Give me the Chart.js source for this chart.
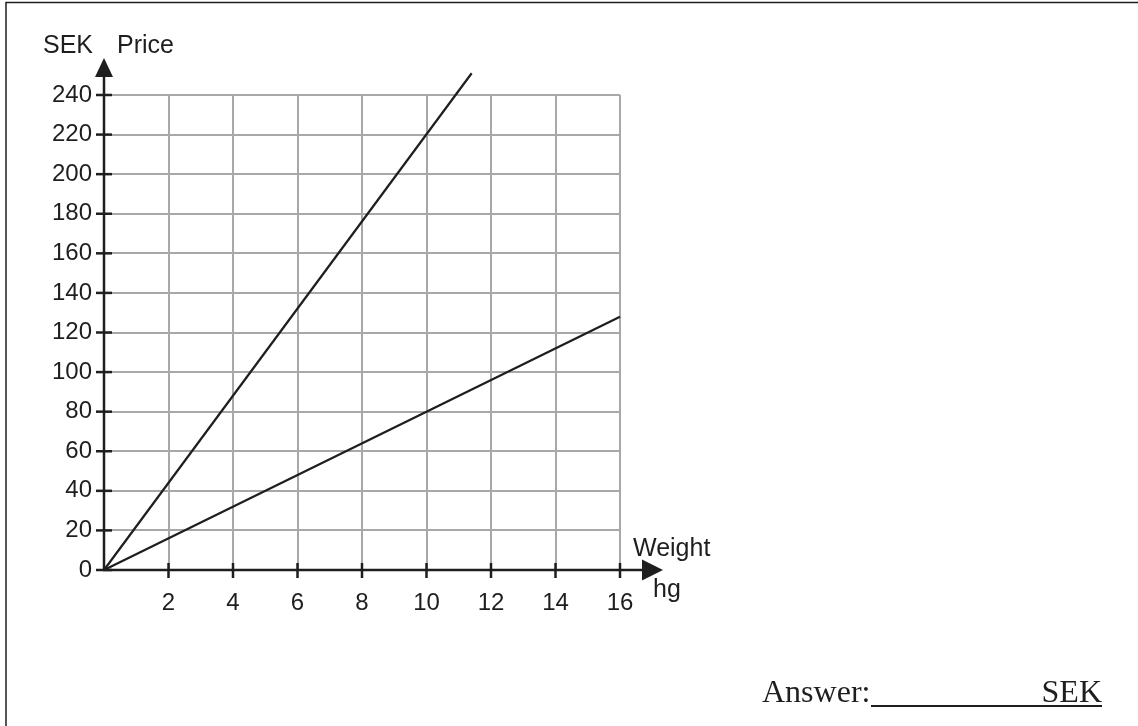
<!DOCTYPE html>
<html>
<head>
<meta charset="utf-8">
<script src="https://cdn.jsdelivr.net/npm/chart.js@4"></script>
<style>
  body { margin: 0; background: #fff; }
  #wrap { position: relative; width: 1138px; height: 726px; }
</style>
</head>
<body>
<div id="wrap"><canvas id="priceChart"></canvas></div>
<script>
// ===============================
// DATA
// ===============================
const steepWeight = [0, 11.4];
const steepPrice = [0, 251];
const flatWeight = [0, 16];
const flatPrice = [0, 128];

const xTicks = [0, 2, 4, 6, 8, 10, 12, 14, 16];
const yTicks = [0, 20, 40, 60, 80, 100, 120, 140, 160, 180, 200, 220, 240];

const yUnit = "SEK";
const yTitle = "Price";
const xTitle = "Weight";
const xUnit = "hg";

const INK = "#1e1e1e";
const GRID = "#a8a8a8";
const SANS = "'Liberation Sans', Arial, sans-serif";

function toPoints(xs, ys) {
  return xs.map((x, i) => ({ x: x, y: ys[i] }));
}

// ===============================
// AXES + ARROWS + TEXT
// ===============================
const axesPlugin = {
  id: "axesPlugin",
  afterDatasetsDraw(chart) {
    const ctx = chart.ctx;
    const xs = chart.scales.x;
    const ys = chart.scales.y;
    const x0 = xs.getPixelForValue(0);
    const y0 = ys.getPixelForValue(0);

    ctx.save();
    ctx.strokeStyle = INK;
    ctx.fillStyle = INK;
    ctx.lineWidth = 2.5;

    // y axis
    ctx.beginPath();
    ctx.moveTo(x0, y0 + 1);
    ctx.lineTo(x0, 76);
    ctx.stroke();
    ctx.beginPath();
    ctx.moveTo(x0, 58);
    ctx.lineTo(x0 - 9, 77);
    ctx.lineTo(x0 + 9, 77);
    ctx.closePath();
    ctx.fill();

    // x axis
    ctx.beginPath();
    ctx.moveTo(x0 - 1, y0);
    ctx.lineTo(643, y0);
    ctx.stroke();
    ctx.beginPath();
    ctx.moveTo(663, y0);
    ctx.lineTo(642, y0 - 10.5);
    ctx.lineTo(642, y0 + 10.5);
    ctx.closePath();
    ctx.fill();

    // tick marks
    yTicks.forEach((v) => {
      const py = ys.getPixelForValue(v);
      ctx.beginPath();
      ctx.moveTo(x0 - 8, py);
      ctx.lineTo(x0 + 8, py);
      ctx.stroke();
    });
    xTicks.forEach((v) => {
      if (v === 0) return;
      const px = xs.getPixelForValue(v);
      ctx.beginPath();
      ctx.moveTo(px, y0 - 7);
      ctx.lineTo(px, y0 + 8);
      ctx.stroke();
    });

    // titles
    ctx.font = "25px " + SANS;
    ctx.textBaseline = "alphabetic";
    ctx.textAlign = "left";
    ctx.fillText(yUnit, 43, 53);
    ctx.fillText(yTitle, 117, 53);
    ctx.fillText(xTitle, 633, 556);
    ctx.fillText(xUnit, 653, 597);

    // answer line
    ctx.font = "32px 'Liberation Serif', 'Times New Roman', serif";
    ctx.fillText("Answer:", 762, 702);
    ctx.textAlign = "right";
    ctx.fillText("SEK", 1102, 702);
    ctx.lineWidth = 2;
    ctx.beginPath();
    ctx.moveTo(871, 706);
    ctx.lineTo(1102, 706);
    ctx.stroke();

    // page frame (top + left)
    ctx.lineWidth = 1.5;
    ctx.beginPath();
    ctx.moveTo(6, 726);
    ctx.lineTo(6, 2.5);
    ctx.lineTo(1138, 2.5);
    ctx.stroke();

    ctx.restore();
  },
};

// ===============================
// CHART
// ===============================
const ctx = document.getElementById("priceChart").getContext("2d");

new Chart(ctx, {
  type: "scatter",
  data: {
    datasets: [
      {
        data: toPoints(steepWeight, steepPrice),
        showLine: true,
        borderColor: INK,
        borderWidth: 2.2,
        pointRadius: 0,
        clip: false,
      },
      {
        data: toPoints(flatWeight, flatPrice),
        showLine: true,
        borderColor: INK,
        borderWidth: 2.2,
        pointRadius: 0,
        clip: false,
      },
    ],
  },
  options: {
    responsive: true,
    maintainAspectRatio: false,
    animation: false,
    events: [],
    layout: {
      padding: { top: 95, right: 518, left: 0, bottom: 0 },
    },
    plugins: {
      legend: { display: false },
      tooltip: { enabled: false },
    },
    scales: {
      x: {
        type: "linear",
        min: 0,
        max: 16,
        afterFit: (scale) => { scale.height = 156; },
        afterBuildTicks: (scale) => { scale.ticks = xTicks.map((v) => ({ value: v })); },
        border: { display: false },
        grid: { color: GRID, lineWidth: 2, drawTicks: false },
        ticks: {
          color: INK,
          padding: 19,
          maxRotation: 0,
          font: { family: SANS, size: 24 },
          callback: (v) => (v === 0 ? "" : v),
        },
      },
      y: {
        type: "linear",
        min: 0,
        max: 240,
        afterFit: (scale) => { scale.width = 104; },
        afterBuildTicks: (scale) => { scale.ticks = yTicks.map((v) => ({ value: v })); },
        border: { display: false },
        grid: { color: GRID, lineWidth: 2, drawTicks: false },
        ticks: {
          color: INK,
          padding: 12,
          font: { family: SANS, size: 24 },
        },
      },
    },
  },
  plugins: [axesPlugin],
});
</script>
</body>
</html>
